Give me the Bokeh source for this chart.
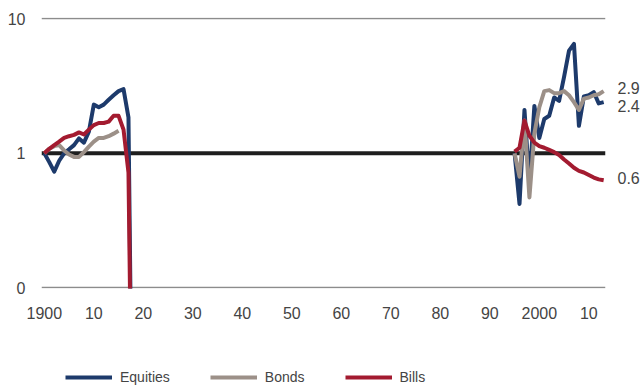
import math
from bokeh.plotting import figure
from bokeh.layouts import column
from bokeh.models import FixedTicker, Span, Legend, LegendItem, Range1d, LogAxis
from bokeh.embed import file_html
from bokeh.resources import INLINE

# ---------------- data (cumulative real value, log scale) ----------------
years_early = list(range(1900, 1919))
equities_early = [1.0, 0.86, 0.73, 0.88, 1.0, 1.07, 1.15, 1.29, 1.2, 1.45,
                  2.3, 2.2, 2.3, 2.5, 2.7, 2.9, 3.0, 1.85, 0.0]
bonds_early = [1.0, 1.08, 1.13, 1.15, 1.05, 0.98, 0.94, 0.94, 1.02, 1.12,
               1.22, 1.3, 1.3, 1.34, 1.4, 1.47, float("nan"), float("nan"), float("nan")]
bills_early = [1.0, 1.08, 1.15, 1.22, 1.3, 1.34, 1.37, 1.43, 1.38, 1.5,
               1.62, 1.68, 1.68, 1.72, 1.9, 1.9, 1.5, 0.72, 0.0]

years_late = list(range(1995, 2014))
equities_late = [1.0, 0.42, 2.1, 0.6, 2.25, 1.3, 1.8, 1.9, 2.6, 2.45,
                 3.7, 5.8, 6.5, 1.6, 2.65, 2.7, 2.85, 2.35, 2.4]
bonds_late = [1.0, 0.67, 1.75, 0.47, 1.4, 2.2, 2.9, 2.95, 2.8, 2.8,
              2.9, 2.7, 2.4, 2.1, 2.55, 2.6, 2.7, 2.75, 2.9]
bills_late = [1.03, 1.1, 1.75, 1.35, 1.2, 1.13, 1.1, 1.06, 1.02, 0.97,
              0.9, 0.84, 0.78, 0.74, 0.72, 0.69, 0.66, 0.64, 0.63]

series_names = ["Equities", "Bonds", "Bills"]
series_colors = ["#1d3a6b", "#9c9088", "#a31b30"]

x_ticks = [1900, 1910, 1920, 1930, 1940, 1950, 1960, 1970, 1980, 1990, 2000, 2010]
x_tick_labels = ["1900", "10", "20", "30", "40", "50", "60", "70", "80", "90", "2000", "10"]
y_ticks = [0.1, 1, 10]
y_tick_labels = ["0", "1", "10"]

FLOOR = 1e-3  # a total loss (0) drawn off the bottom of the log axis


def for_log(vals):
    return [v if (isinstance(v, float) and math.isnan(v)) else max(v, FLOOR) for v in vals]


FONT = "Liberation Sans"
TXT = "#444444"
PX_PER_DECADE = 134.5

p = figure(frame_width=564, frame_height=271,
           min_border_left=41, min_border_right=36, min_border_top=17, min_border_bottom=72,
           y_axis_type="log",
           x_range=Range1d(1899.43, 2013.37), y_range=Range1d(0.0988, 10.225),
           output_backend="svg", toolbar_location=None)
p.outline_line_color = None
p.background_fill_color = "white"
p.border_fill_color = "white"

# right axis carries the end-of-period value labels (nudged apart vertically)
label_nudge_px = {"Equities": -4, "Bonds": 3, "Bills": 2}
late = [equities_late, bonds_late, bills_late]
end_ticks, end_text = [], {}
for name, l in zip(series_names, late):
    t = l[-1] * 10 ** (label_nudge_px[name] / PX_PER_DECADE)
    end_ticks.append(t)
    end_text[t] = "%.1f" % l[-1]
raxis = LogAxis(ticker=FixedTicker(ticks=end_ticks), major_label_overrides=end_text)
p.add_layout(raxis, "right")

# axes
p.xaxis.ticker = FixedTicker(ticks=x_ticks)
p.xaxis.major_label_overrides = dict(zip(x_ticks, x_tick_labels))
p.yaxis[0].ticker = FixedTicker(ticks=y_ticks)
p.yaxis[0].major_label_overrides = dict(zip(y_ticks, y_tick_labels))
for ax in [p.xaxis[0], p.yaxis[0], raxis]:
    ax.axis_line_color = None
    ax.major_tick_in = 0
    ax.major_tick_out = 0
    ax.minor_tick_in = 0
    ax.minor_tick_out = 0
    ax.major_label_text_font = FONT
    ax.major_label_text_font_size = "16px"
    ax.major_label_text_color = TXT
p.xaxis.major_label_standoff = 18
p.yaxis[0].major_label_standoff = 16
raxis.major_label_standoff = 12

p.xgrid.visible = False
p.ygrid.ticker = FixedTicker(ticks=[0.1, 10])
p.ygrid.grid_line_color = "#8c8c8c"
p.ygrid.grid_line_width = 1.5

p.add_layout(Span(location=1, dimension="width", line_color="#1e1e1e",
                  line_width=4, level="underlay"))

early = [equities_early, bonds_early, bills_early]
for name, col, e, l in zip(series_names, series_colors, early, late):
    p.line(years_early, for_log(e), line_color=col, line_width=4, line_join="round")
    p.line(years_late, for_log(l), line_color=col, line_width=4, line_join="round")

# ---------------- legend strip under the chart ----------------
# Its own small canvas (so the key is not clipped by the chart frame); the series
# are re-drawn there only to give the legend its swatches (they fall outside its range).
lg = figure(width=641, height=25, min_border=0, toolbar_location=None,
            x_axis_location=None, y_axis_location=None, output_backend="svg",
            x_range=Range1d(0, 1), y_range=Range1d(0, 1))
lg.outline_line_color = None
lg.xgrid.visible = False
lg.ygrid.visible = False
items = []
for name, col, l in zip(series_names, series_colors, late):
    r = lg.line(years_late, l, line_color=col, line_width=4)
    items.append(LegendItem(label=name, renderers=[r]))
legend = Legend(items=items, orientation="horizontal", location=(24, 0),
                padding=0, margin=0, spacing=40, glyph_width=47, glyph_height=16,
                label_height=16, label_standoff=8, label_text_font=FONT,
                label_text_font_size="14px", label_text_color=TXT,
                border_line_color=None, background_fill_alpha=0)
lg.add_layout(legend)

page = column(p, lg, spacing=0)
open("out.html", "w").write(file_html(page, INLINE))
